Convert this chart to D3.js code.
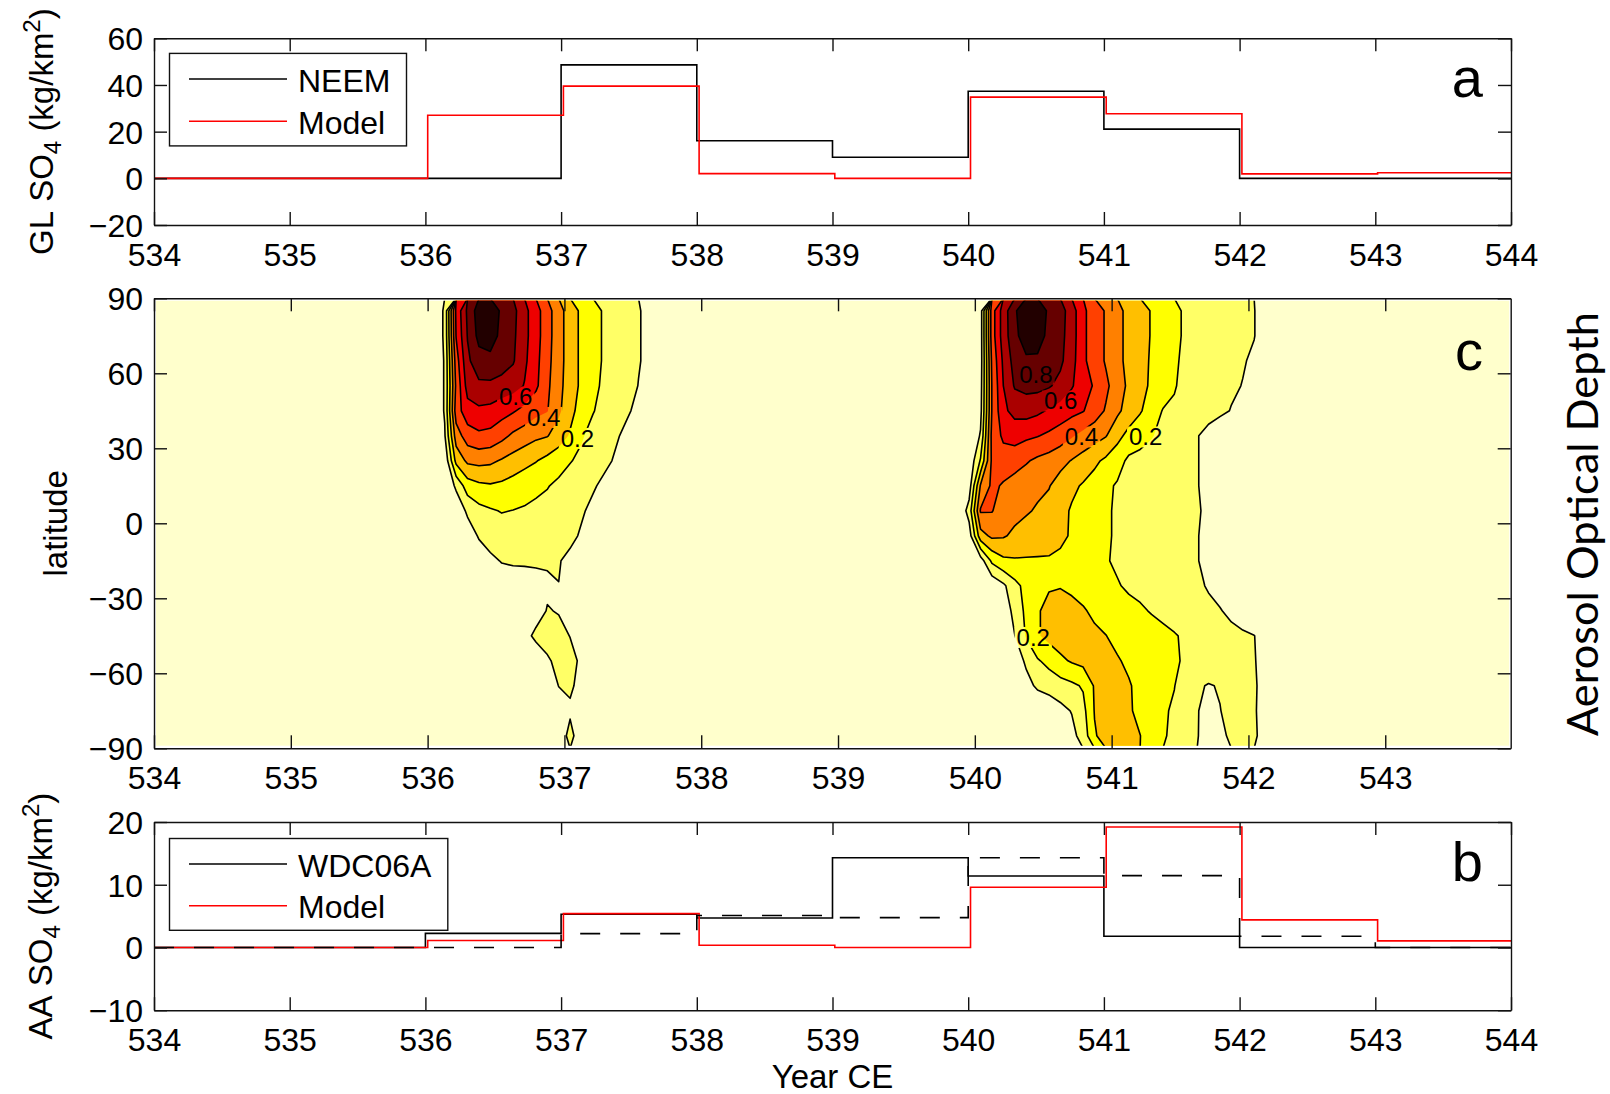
<!DOCTYPE html>
<html>
<head>
<meta charset="utf-8">
<title>Sulfate deposition and aerosol optical depth, 534–544 CE</title>
<script src="https://cdn.jsdelivr.net/npm/d3@7/dist/d3.min.js"></script>
<style>
  html, body { margin: 0; padding: 0; background: #fff; }
  svg text { font-family: "Liberation Sans", Arial, Helvetica, sans-serif; fill: #000; }
</style>
</head>
<body>
<svg id="fig" width="1610" height="1094"></svg>
<script>
// ---------------------------------------------------------------
// Annual bins (CE) for the ice-core and model sulfate series
// ---------------------------------------------------------------
const yearEdges      = [534, 535, 536, 537, 538, 539, 540, 541, 542, 543, 544];
const modelYearEdges = [534, 535.017, 536.017, 537.017, 538.017, 539.017, 540.017, 541.017, 542.017, 543.017, 544];

// (a) Greenland sulfate deposition, kg/km²
const neemSO4           = [0, 0, 0, 48.6, 16.1, 9.0, 37.3, 21.1, 0, 0];
const modelGreenlandSO4 = [0, 0, 27.0, 39.5, 2.0, 0, 34.8, 27.7, 1.9, 2.4];

// (b) Antarctic sulfate deposition, kg/km²
const wdcSO4            = [0, 0, 2.25, 5.3, 4.7, 14.3, 11.4, 1.8, 0, 0];
const wdcSO4Shifted     = [0, 0, 0, 2.2, 5.1, 4.75, 14.3, 11.45, 1.8, 0];
const modelAntarcticSO4 = [0, 0, 1.1, 5.4, 0.35, 0, 9.6, 19.2, 4.4, 1.05];

// Tick values
const yearTicks  = [534, 535, 536, 537, 538, 539, 540, 541, 542, 543, 544];
const yearTicksC = [534, 535, 536, 537, 538, 539, 540, 541, 542, 543];
const glTicks    = [-20, 0, 20, 40, 60];
const latTicks   = [-90, -60, -30, 0, 30, 60, 90];
const aaTicks    = [-10, 0, 10, 20];

// ---------------------------------------------------------------
// (c) Zonal-mean aerosol optical depth, monthly means 534–543,
//     one row per 10° latitude band (north to south)
// ---------------------------------------------------------------
const aodLats   = [85, 75, 65, 55, 45, 35, 25, 15, 5, -5, -15, -25, -35, -45, -55, -65, -75, -85];
const aodYears  = d3.range(120).map(k => 534 + (k + 0.5) / 12);
const aodLevels = [0.1, 0.2, 0.3, 0.4, 0.5, 0.6, 0.7, 0.8, 0.9];
const aodColors = ['#FFFFCC', '#FFFF66', '#FFFF00', '#FFBF00', '#FF8000',
                   '#FF4000', '#EE0000', '#AA0000', '#660000', '#220000'];

const aodRows = [
  // 85
  [0,0,0,0,0,0,0,0,0,0,0,0, 0,0,0,0,0,0,0,0,0,0,0,0,
   0,.12,.62,.82,.95,.97,.88,.83,.73,.64,.54,.44,
   .35,.28,.23,.19,.16,.13,.105,.08,.05,.03,0,0,
   0,0,0,0,0,0,0,0,0,0,0,0,
   0,0,0,0,0,0,0,0,0,0,0,0,
   .05,.55,.75,.88,1.0,.97,.88,.84,.75,.62,.55,.49,
   .43,.37,.33,.295,.26,.215,.19,.16,.145,.13,.12,.11,
   .102,.07,.03,0,0,0,0,0,0,0,0,0,
   0,0,0,0,0,0,0,0,0,0,0,0],
  // 75
  [0,0,0,0,0,0,0,0,0,0,0,0, 0,0,0,0,0,0,0,0,0,0,0,0,
   0,.12,.605,.805,.93,.95,.87,.82,.73,.64,.54,.44,
   .35,.28,.23,.19,.16,.13,.105,.08,.05,.03,0,0,
   0,0,0,0,0,0,0,0,0,0,0,0,
   0,0,0,0,0,0,0,0,0,0,0,0,
   .05,.55,.75,.87,.96,.95,.87,.83,.75,.62,.55,.49,
   .43,.37,.33,.295,.26,.215,.19,.16,.145,.13,.12,.11,
   .102,.07,.03,0,0,0,0,0,0,0,0,0,
   0,0,0,0,0,0,0,0,0,0,0,0],
  // 65
  [0,0,0,0,0,0,0,0,0,0,0,0, 0,0,0,0,0,0,0,0,0,0,0,0,
   0,.11,.55,.78,.86,.87,.85,.81,.72,.63,.53,.44,
   .35,.28,.23,.19,.16,.13,.105,.08,.05,.03,0,0,
   0,0,0,0,0,0,0,0,0,0,0,0,
   0,0,0,0,0,0,0,0,0,0,0,0,
   .05,.52,.72,.84,.88,.88,.85,.82,.74,.62,.55,.49,
   .43,.37,.33,.29,.255,.21,.185,.16,.14,.13,.115,.105,
   .09,.06,.02,0,0,0,0,0,0,0,0,0,
   0,0,0,0,0,0,0,0,0,0,0,0],
  // 55
  [0,0,0,0,0,0,0,0,0,0,0,0, 0,0,0,0,0,0,0,0,0,0,0,0,
   0,.11,.52,.74,.78,.78,.76,.74,.695,.62,.52,.43,
   .35,.28,.22,.185,.155,.13,.098,.07,.04,.02,0,0,
   0,0,0,0,0,0,0,0,0,0,0,0,
   0,0,0,0,0,0,0,0,0,0,0,0,
   .06,.505,.70,.81,.83,.83,.81,.77,.71,.64,.59,.52,
   .45,.38,.33,.285,.25,.205,.18,.16,.14,.125,.11,.098,
   .085,.05,.01,0,0,0,0,0,0,0,0,0,
   0,0,0,0,0,0,0,0,0,0,0,0],
  // 45
  [0,0,0,0,0,0,0,0,0,0,0,0, 0,0,0,0,0,0,0,0,0,0,0,0,
   0,.11,.55,.66,.68,.67,.64,.61,.57,.53,.505,.42,
   .33,.26,.205,.17,.145,.11,.08,.05,.03,.01,0,0,
   0,0,0,0,0,0,0,0,0,0,0,0,
   0,0,0,0,0,0,0,0,0,0,0,0,
   .07,.505,.68,.73,.74,.72,.69,.66,.63,.605,.55,.49,
   .42,.36,.31,.25,.195,.19,.17,.15,.135,.115,.097,.08,
   .05,.02,0,0,0,0,0,0,0,0,0,0,
   0,0,0,0,0,0,0,0,0,0,0,0],
  // 35
  [0,0,0,0,0,0,0,0,0,0,0,0, 0,0,0,0,0,0,0,0,0,0,0,0,
   0,.09,.45,.55,.58,.57,.53,.48,.45,.42,.405,.35,
   .29,.21,.17,.14,.11,.08,.05,.03,.01,0,0,0,
   0,0,0,0,0,0,0,0,0,0,0,0,
   0,0,0,0,0,0,0,0,0,0,0,0,
   .11,.53,.62,.64,.62,.605,.58,.55,.51,.47,.44,.405,
   .33,.27,.23,.205,.18,.16,.14,.105,.07,.05,.03,.02,
   .01,0,0,0,0,0,0,0,0,0,0,0,
   0,0,0,0,0,0,0,0,0,0,0,0],
  // 25
  [0,0,0,0,0,0,0,0,0,0,0,0, 0,0,0,0,0,0,0,0,0,0,0,0,
   0,.02,.33,.42,.43,.42,.39,.36,.33,.305,.27,.24,
   .205,.18,.15,.12,.09,.06,.03,.01,0,0,0,0,
   0,0,0,0,0,0,0,0,0,0,0,0,
   0,0,0,0,0,0,0,0,0,0,0,.02,
   .21,.52,.55,.54,.51,.48,.46,.43,.395,.36,.32,.28,
   .24,.18,.175,.17,.16,.15,.13,.105,.07,.04,.02,.01,
   0,0,0,0,0,0,0,0,0,0,0,0,
   0,0,0,0,0,0,0,0,0,0,0,0],
  // 15
  [0,0,0,0,0,0,0,0,0,0,0,0, 0,0,0,0,0,0,0,0,0,0,0,0,
   0,0,.12,.25,.28,.29,.28,.26,.24,.22,.205,.18,
   .16,.14,.11,.08,.05,.02,0,0,0,0,0,0,
   0,0,0,0,0,0,0,0,0,0,0,0,
   0,0,0,0,0,0,0,0,0,0,0,.05,
   .41,.52,.49,.46,.44,.42,.405,.36,.32,.29,.26,.22,
   .19,.185,.175,.165,.16,.15,.13,.105,.07,.04,.02,.01,
   0,0,0,0,0,0,0,0,0,0,0,0,
   0,0,0,0,0,0,0,0,0,0,0,0],
  // 5
  [0,0,0,0,0,0,0,0,0,0,0,0, 0,0,0,0,0,0,0,0,0,0,0,0,
   0,0,.02,.12,.17,.19,.205,.198,.19,.18,.17,.15,
   .13,.11,.08,.05,.02,0,0,0,0,0,0,0,
   0,0,0,0,0,0,0,0,0,0,0,0,
   0,0,0,0,0,0,0,0,0,0,0,.14,
   .51,.505,.45,.43,.41,.39,.37,.33,.29,.27,.24,.21,
   .19,.18,.17,.165,.16,.15,.13,.11,.08,.05,.02,0,
   0,0,0,0,0,0,0,0,0,0,0,0,
   0,0,0,0,0,0,0,0,0,0,0,0],
  // -5
  [0,0,0,0,0,0,0,0,0,0,0,0, 0,0,0,0,0,0,0,0,0,0,0,0,
   0,0,0,.04,.11,.14,.15,.15,.15,.14,.14,.13,
   .12,.09,.06,.03,.01,0,0,0,0,0,0,0,
   0,0,0,0,0,0,0,0,0,0,0,0,
   0,0,0,0,0,0,0,0,0,0,0,.05,
   .36,.42,.41,.38,.36,.35,.34,.32,.29,.26,.23,.21,
   .19,.18,.17,.165,.16,.15,.13,.105,.07,.04,.02,0,
   0,0,0,0,0,0,0,0,0,0,0,0,
   0,0,0,0,0,0,0,0,0,0,0,0],
  // -15
  [0,0,0,0,0,0,0,0,0,0,0,0, 0,0,0,0,0,0,0,0,0,0,0,0,
   0,0,0,0,.04,.08,.105,.11,.11,.11,.11,.105,
   .08,.05,.02,0,0,0,0,0,0,0,0,0,
   0,0,0,0,0,0,0,0,0,0,0,0,
   0,0,0,0,0,0,0,0,0,0,0,0,
   .05,.22,.28,.29,.29,.29,.29,.28,.26,.24,.22,.205,
   .19,.18,.17,.165,.16,.15,.13,.105,.07,.04,.02,0,
   0,0,0,0,0,0,0,0,0,0,0,0,
   0,0,0,0,0,0,0,0,0,0,0,0],
  // -25
  [0,0,0,0,0,0,0,0,0,0,0,0, 0,0,0,0,0,0,0,0,0,0,0,0,
   0,0,0,0,0,.03,.05,.06,.065,.075,.085,.099,
   .07,.04,.01,0,0,0,0,0,0,0,0,0,
   0,0,0,0,0,0,0,0,0,0,0,0,
   0,0,0,0,0,0,0,0,0,0,0,0,
   0,.02,.08,.17,.23,.26,.29,.295,.28,.26,.24,.22,
   .205,.19,.18,.17,.16,.15,.14,.12,.09,.07,.04,.02,
   0,0,0,0,0,0,0,0,0,0,0,0,
   0,0,0,0,0,0,0,0,0,0,0,0],
  // -35
  [0,0,0,0,0,0,0,0,0,0,0,0, 0,0,0,0,0,0,0,0,0,0,0,0,
   0,0,0,0,0,0,0,.02,.04,.06,.105,.095,
   .06,.03,0,0,0,0,0,0,0,0,0,0,
   0,0,0,0,0,0,0,0,0,0,0,0,
   0,0,0,0,0,0,0,0,0,0,0,0,
   0,0,.02,.14,.22,.29,.33,.34,.33,.31,.28,.25,
   .23,.22,.21,.195,.18,.17,.16,.145,.125,.105,.08,.05,
   .02,0,0,0,0,0,0,0,0,0,0,0,
   0,0,0,0,0,0,0,0,0,0,0,0],
  // -45
  [0,0,0,0,0,0,0,0,0,0,0,0, 0,0,0,0,0,0,0,0,0,0,0,0,
   0,0,0,0,0,0,0,.03,.07,.12,.13,.125,
   .098,.05,0,0,0,0,0,0,0,0,0,0,
   0,0,0,0,0,0,0,0,0,0,0,0,
   0,0,0,0,0,0,0,0,0,0,0,0,
   0,0,.02,.098,.21,.29,.33,.35,.35,.34,.32,.302,
   .27,.25,.24,.23,.22,.205,.19,.17,.15,.135,.125,.115,
   .102,.06,.02,0,0,0,0,0,0,0,0,0,
   0,0,0,0,0,0,0,0,0,0,0,0],
  // -55
  [0,0,0,0,0,0,0,0,0,0,0,0, 0,0,0,0,0,0,0,0,0,0,0,0,
   0,0,0,0,0,0,0,0,.02,.04,.09,.12,
   .125,.085,.04,0,0,0,0,0,0,0,0,0,
   0,0,0,0,0,0,0,0,0,0,0,0,
   0,0,0,0,0,0,0,0,0,0,0,0,
   0,0,0,.03,.12,.19,.23,.28,.31,.33,.34,.33,
   .31,.28,.25,.23,.22,.21,.19,.17,.15,.135,.125,.115,
   .105,.07,.03,0,0,0,0,0,0,0,0,0,
   0,0,0,0,0,0,0,0,0,0,0,0],
  // -65
  [0,0,0,0,0,0,0,0,0,0,0,0, 0,0,0,0,0,0,0,0,0,0,0,0,
   0,0,0,0,0,0,0,0,0,.02,.04,.102,
   .115,.07,.03,0,0,0,0,0,0,0,0,0,
   0,0,0,0,0,0,0,0,0,0,0,0,
   0,0,0,0,0,0,0,0,0,0,0,0,
   0,0,0,0,.06,.12,.14,.16,.18,.21,.31,.34,
   .34,.31,.27,.24,.22,.202,.16,.11,.095,.105,.12,.12,
   .11,.07,.03,0,0,0,0,0,0,0,0,0,
   0,0,0,0,0,0,0,0,0,0,0,0],
  // -75
  [0,0,0,0,0,0,0,0,0,0,0,0, 0,0,0,0,0,0,0,0,0,0,0,0,
   0,0,0,0,0,0,0,0,0,0,.02,.05,
   .085,.05,.02,0,0,0,0,0,0,0,0,0,
   0,0,0,0,0,0,0,0,0,0,0,0,
   0,0,0,0,0,0,0,0,0,0,0,0,
   0,0,0,0,0,0,.03,.07,.105,.17,.305,.34,
   .34,.32,.26,.23,.21,.19,.14,.105,.07,.098,.12,.12,
   .11,.06,.02,0,0,0,0,0,0,0,0,0,
   0,0,0,0,0,0,0,0,0,0,0,0],
  // -85
  [0,0,0,0,0,0,0,0,0,0,0,0, 0,0,0,0,0,0,0,0,0,0,0,0,
   0,0,0,0,0,0,0,0,0,0,.01,.04,
   .13,.04,.01,0,0,0,0,0,0,0,0,0,
   0,0,0,0,0,0,0,0,0,0,0,0,
   0,0,0,0,0,0,0,0,0,0,0,0,
   0,0,0,0,0,0,0,.02,.07,.14,.29,.34,
   .35,.33,.302,.24,.21,.18,.14,.105,.06,.08,.115,.12,
   .115,.06,.02,0,0,0,0,0,0,0,0,0,
   0,0,0,0,0,0,0,0,0,0,0,0]
];

// Inline contour labels (year, latitude, level)
const aodLabels = [
  { year: 536.644, lat: 50.6,  text: '0.6' },
  { year: 536.849, lat: 42.4,  text: '0.4' },
  { year: 537.095, lat: 34.0,  text: '0.2' },
  { year: 540.446, lat: 59.7,  text: '0.8' },
  { year: 540.627, lat: 49.0,  text: '0.6' },
  { year: 540.780, lat: 34.6,  text: '0.4' },
  { year: 541.249, lat: 34.6,  text: '0.2' },
  { year: 540.427, lat: -45.6, text: '0.2' }
];

// ---------------------------------------------------------------
// Layout
// ---------------------------------------------------------------
const svg = d3.select('#fig');
const TICK = 13, FS_TICK = 32, FS_LABEL = 33, FS_LETTER = 56;
const AXIS_COLOR = '#111';

const frameA = { left: 154, right: 1511,   top: 38.3,  bottom: 225 };
const frameC = { left: 154, right: 1510.7, top: 298.3, bottom: 748.3 };
const frameB = { left: 154, right: 1511,   top: 822,   bottom: 1010.2 };

const xA = d3.scaleLinear().domain([534, 544]).range([frameA.left, frameA.right]);
const yA = d3.scaleLinear().domain([-20, 60]).range([frameA.bottom, frameA.top]);
const xC = d3.scaleLinear().domain([534, 543.917]).range([frameC.left, frameC.right]);
const yC = d3.scaleLinear().domain([-90, 90]).range([frameC.bottom, frameC.top]);
const xB = d3.scaleLinear().domain([534, 544]).range([frameB.left, frameB.right]);
const yB = d3.scaleLinear().domain([-10, 20]).range([frameB.bottom, frameB.top]);

function drawFrame(g, f, x, y, xt, yt) {
  const fmt = d3.format('d');
  const bottom = g.append('g').attr('transform', `translate(0,${f.bottom})`)
    .call(d3.axisBottom(x).tickValues(xt).tickSize(-TICK).tickSizeOuter(0).tickPadding(18.3).tickFormat(fmt));
  const top = g.append('g').attr('transform', `translate(0,${f.top})`)
    .call(d3.axisTop(x).tickValues(xt).tickSize(-TICK).tickSizeOuter(0).tickFormat(''));
  const left = g.append('g').attr('transform', `translate(${f.left},0)`)
    .call(d3.axisLeft(y).tickValues(yt).tickSize(-TICK).tickSizeOuter(0).tickPadding(11).tickFormat(fmt));
  const right = g.append('g').attr('transform', `translate(${f.right},0)`)
    .call(d3.axisRight(y).tickValues(yt).tickSize(-TICK).tickSizeOuter(0).tickFormat(''));
  [bottom, top, left, right].forEach(a => {
    a.attr('font-size', FS_TICK).attr('font-family', null);
    a.selectAll('.domain, .tick line').attr('stroke', AXIS_COLOR).attr('stroke-width', 1.4);
    a.selectAll('text').attr('fill', '#000');
  });
  left.selectAll('text').attr('dy', '0.36em');
}

function stepPoints(edges, values) {
  return values.map((v, i) => [edges[i], v]).concat([[edges[edges.length - 1], values[values.length - 1]]]);
}
function drawSteps(g, x, y, edges, values, color, dash) {
  const line = d3.line().x(d => x(d[0])).y(d => y(d[1])).curve(d3.curveStepAfter);
  g.append('path').attr('d', line(stepPoints(edges, values)))
    .attr('fill', 'none').attr('stroke', color).attr('stroke-width', 1.6)
    .attr('stroke-dasharray', dash || null);
}

function drawLegend(g, box, entries) {
  g.append('rect').attr('x', box.x).attr('y', box.y).attr('width', box.w).attr('height', box.h)
    .attr('fill', '#fff').attr('stroke', AXIS_COLOR).attr('stroke-width', 1.4);
  entries.forEach(e => {
    g.append('line').attr('x1', box.x + 19.5).attr('x2', box.x + 117.5).attr('y1', e.y).attr('y2', e.y)
      .attr('stroke', e.color).attr('stroke-width', 1.6);
    g.append('text').attr('x', box.x + 128.5).attr('y', e.y + 12.6).attr('font-size', FS_TICK).text(e.label);
  });
}

function so4Label(g, x, y, region) {
  const t = g.append('text').attr('transform', `translate(${x},${y}) rotate(-90)`)
    .attr('text-anchor', 'middle').attr('font-size', FS_LABEL);
  t.append('tspan').text(region + '\u00a0SO');
  t.append('tspan').attr('font-size', 24).attr('dy', 8).text('4');
  t.append('tspan').attr('dy', -8).text('\u00a0(kg/km');
  t.append('tspan').attr('font-size', 24).attr('dy', -13).text('2');
  t.append('tspan').attr('dy', 13).text(')');
}

function panelLetter(g, x, y, s) {
  g.append('text').attr('x', x).attr('y', y).attr('text-anchor', 'end').attr('font-size', FS_LETTER).text(s);
}

// ---------------------------------------------------------------
// (a) Greenland
// ---------------------------------------------------------------
const gA = svg.append('g');
drawSteps(gA, xA, yA, yearEdges, neemSO4, '#000');
drawSteps(gA, xA, yA, modelYearEdges, modelGreenlandSO4, '#FF0000');
drawFrame(gA, frameA, xA, yA, yearTicks, glTicks);
drawLegend(gA, { x: 169.5, y: 53.4, w: 237, h: 92.5 }, [
  { y: 79,    color: '#000',    label: 'NEEM' },
  { y: 121.2, color: '#FF0000', label: 'Model' }
]);
panelLetter(gA, 1483, 97, 'a');
so4Label(gA, 53, (frameA.top + frameA.bottom) / 2, 'GL');

// ---------------------------------------------------------------
// (c) Aerosol optical depth
// ---------------------------------------------------------------
const gC = svg.append('g');
const defs = svg.append('defs');
defs.append('clipPath').attr('id', 'aod-clip').append('rect')
  .attr('x', frameC.left + 2).attr('y', frameC.top + 2.5)
  .attr('width', frameC.right - frameC.left - 3.5).attr('height', frameC.bottom - frameC.top - 5);

const nx = aodYears.length, ny = aodLats.length;
const gridX = d3.scaleLinear().domain([0.5, nx - 0.5]).range([aodYears[0], aodYears[nx - 1]]);
const gridY = d3.scaleLinear().domain([0.5, ny - 0.5]).range([aodLats[0], aodLats[ny - 1]]);
const gridToScreen = d3.geoTransform({
  point(gxv, gyv) { this.stream.point(xC(gridX(gxv)), yC(gridY(gyv))); }
});
const aodPath = d3.geoPath(gridToScreen);
const aodContours = d3.contours().size([nx, ny]).thresholds(aodLevels)(aodRows.flat());

const plotC = gC.append('g').attr('clip-path', 'url(#aod-clip)');
// values below the first level
plotC.append('rect')
  .attr('x', xC(gridX(0))).attr('y', yC(gridY(0)))
  .attr('width', xC(gridX(nx)) - xC(gridX(0))).attr('height', yC(gridY(ny)) - yC(gridY(0)))
  .attr('fill', aodColors[0]);
plotC.append('g').selectAll('path').data(aodContours).join('path')
  .attr('d', aodPath).attr('fill', (d, i) => aodColors[i + 1]).attr('fill-rule', 'evenodd');

const lblMask = defs.append('mask').attr('id', 'aod-label-mask')
  .attr('maskUnits', 'userSpaceOnUse').attr('x', 0).attr('y', 0).attr('width', 1610).attr('height', 1094);
lblMask.append('rect').attr('width', 1610).attr('height', 1094).attr('fill', '#fff');

plotC.append('g').attr('mask', 'url(#aod-label-mask)').selectAll('path').data(aodContours).join('path')
  .attr('d', aodPath).attr('fill', 'none').attr('stroke', '#000').attr('stroke-width', 1.6)
  .attr('stroke-linejoin', 'round');

const lbls = gC.append('g').selectAll('text').data(aodLabels).join('text')
  .attr('x', d => xC(d.year)).attr('y', d => yC(d.lat)).attr('dy', '0.36em')
  .attr('text-anchor', 'middle').attr('font-size', 24).text(d => d.text);
lbls.each(function () {
  const b = this.getBBox();
  lblMask.append('rect').attr('x', b.x - 2).attr('y', b.y + 3).attr('width', b.width + 4).attr('height', b.height - 6)
    .attr('fill', '#000');
});

drawFrame(gC, frameC, xC, yC, yearTicksC, latTicks);
panelLetter(gC, 1483, 369.5, 'c');
gC.append('text').attr('transform', `translate(66.7,${(frameC.top + frameC.bottom) / 2}) rotate(-90)`)
  .attr('text-anchor', 'middle').attr('font-size', FS_LABEL).text('latitude');

// colour-scale title
const aodTitle = svg.append('text').attr('text-anchor', 'middle')
  .style('font-family', 'Lato, "Open Sans", sans-serif').style('font-size', '42px')
  .text('Aerosol Optical Depth');
{
  const len = aodTitle.node().getComputedTextLength();
  const fs = 42 * 424 / len;
  aodTitle.style('font-size', fs + 'px')
    .attr('transform', `translate(${1566 + 0.73 * fs},524) rotate(-90)`);
}

// ---------------------------------------------------------------
// (b) Antarctica
// ---------------------------------------------------------------
const gB = svg.append('g');
drawSteps(gB, xB, yB, yearEdges, wdcSO4, '#000');
drawSteps(gB, xB, yB, modelYearEdges, modelAntarcticSO4, '#FF0000');
drawSteps(gB, xB, yB, yearEdges, wdcSO4Shifted, '#000', '20,20');
drawFrame(gB, frameB, xB, yB, yearTicks, aaTicks);
drawLegend(gB, { x: 169.5, y: 838.5, w: 278.3, h: 91.8 }, [
  { y: 864,   color: '#000',    label: 'WDC06A' },
  { y: 905.7, color: '#FF0000', label: 'Model' }
]);
panelLetter(gB, 1483, 880.5, 'b');
so4Label(gB, 52, (frameB.top + frameB.bottom) / 2, 'AA');
gB.append('text').attr('x', (frameB.left + frameB.right) / 2).attr('y', 1088)
  .attr('text-anchor', 'middle').attr('font-size', FS_LABEL).text('Year CE');
</script>
</body>
</html>
